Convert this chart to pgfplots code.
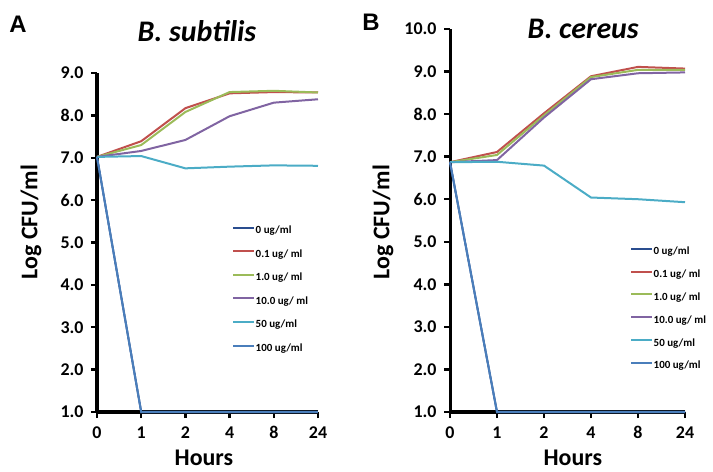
\documentclass[border=0pt]{standalone}
\usepackage{fontspec}
\setmainfont{Carlito}
\newfontfamily\arialfont{Liberation Sans}
\usepackage{pgfplots}
\pgfplotsset{compat=1.18}

\definecolor{c0}{HTML}{2A4D8F}
\definecolor{c01}{HTML}{C0504D}
\definecolor{c1}{HTML}{9BBB59}
\definecolor{c10}{HTML}{8064A2}
\definecolor{c50}{HTML}{4BACC6}
\definecolor{c100}{HTML}{4A7EBB}

\pgfplotsset{
  panel/.style={
    scale only axis,
    axis lines=left,
    axis line style={line width=3bp, black, -},
    xmin=0, xmax=5,
    xtick={0,...,5},
    xticklabels={0,1,2,4,8,24},
    ymin=1,
    tick align=outside,
    major tick length=6bp,
    every tick/.style={black, line width=2.4bp},
    clip=false,
    yticklabel={\pgfmathprintnumber[fixed,fixed zerofill,precision=1]{\tick}},
    yticklabel shift=4bp,
    xticklabel shift=5bp,
    tick label style={font=\bfseries\fontsize{18}{18}\selectfont},
    label style={font=\bfseries\fontsize{24}{24}\selectfont},
    title style={font=\bfseries\itshape\fontsize{30}{30}\selectfont, anchor=center},
    legend cell align=left,
    legend image code/.code={\draw[#1, line width=2bp] (0bp,3bp) -- (21bp,3bp);},
    every axis plot/.append style={line width=2bp, mark=none},
    /pgf/number format/assume math mode=true,
  },
  pleg/.style={
    draw=none, fill=none, inner sep=0pt, anchor=north west,
    font=\bfseries\fontsize{11}{11}\selectfont,
    nodes={text height=8bp, text depth=2bp, inner sep=0.5bp},
  },
}

\begin{document}
\begin{tikzpicture}
\useasboundingbox (0bp,0bp) rectangle (713bp,472bp);

% panel A
\begin{axis}[panel,
  at={(97bp,60bp)}, anchor=south west,
  width=221bp, height=339bp,
  ymax=9, ytick={1,...,9},
  title={B. subtilis},
  title style={at={(axis description cs:0.452,1.106)}},
  xlabel={Hours},
  xlabel style={at={(axis description cs:0.484,-0.136)}, anchor=center},
  ylabel={Log CFU/ml},
  ylabel style={at={(axis description cs:-0.299,0.56)}, anchor=center, rotate=0},
  legend style={pleg, at={(axis description cs:0.611,0.552)}, row sep=12.6bp},
]
\addplot[c0]   coordinates {(0,7.02) (1,1) (2,1) (3,1) (4,1) (5,1)};
\addplot[c01]  coordinates {(0,7.02) (1,7.39) (2,8.17) (3,8.52) (4,8.55) (5,8.54)};
\addplot[c1]   coordinates {(0,7.02) (1,7.30) (2,8.08) (3,8.55) (4,8.58) (5,8.54)};
\addplot[c10]  coordinates {(0,7.02) (1,7.16) (2,7.42) (3,7.98) (4,8.30) (5,8.38)};
\addplot[c50]  coordinates {(0,7.02) (1,7.04) (2,6.75) (3,6.79) (4,6.82) (5,6.81)};
\addplot[c100] coordinates {(0,7.02) (1,1) (2,1) (3,1) (4,1) (5,1)};
\legend{0 ug/ml, 0.1 ug/ ml, 1.0 ug/ ml, 10.0 ug/ ml, 50 ug/ml, 100 ug/ml}
\end{axis}

% panel B
\begin{axis}[panel,
  at={(450bp,60bp)}, anchor=south west,
  width=235bp, height=383bp,
  ymax=10, ytick={1,...,10},
  title={B. cereus},
  title style={at={(axis description cs:0.567,0.984)}},
  xlabel={Hours},
  xlabel style={at={(axis description cs:0.523,-0.120)}, anchor=center},
  ylabel={Log CFU/ml},
  ylabel style={at={(axis description cs:-0.285,0.496)}, anchor=center, rotate=0},
  legend style={pleg, at={(axis description cs:0.766,0.433)}, row sep=11.8bp},
]
\addplot[c0]   coordinates {(0,6.87) (1,1) (2,1) (3,1) (4,1) (5,1)};
\addplot[c01]  coordinates {(0,6.87) (1,7.11) (2,8.02) (3,8.89) (4,9.11) (5,9.07)};
\addplot[c1]   coordinates {(0,6.87) (1,7.04) (2,7.97) (3,8.87) (4,9.04) (5,9.04)};
\addplot[c10]  coordinates {(0,6.87) (1,6.92) (2,7.92) (3,8.82) (4,8.96) (5,8.98)};
\addplot[c50]  coordinates {(0,6.87) (1,6.88) (2,6.79) (3,6.04) (4,6.00) (5,5.93)};
\addplot[c100] coordinates {(0,6.87) (1,1) (2,1) (3,1) (4,1) (5,1)};
\legend{0 ug/ml, 0.1 ug/ ml, 1.0 ug/ ml, 10.0 ug/ ml, 50 ug/ml, 100 ug/ml}
\end{axis}

\node[font=\arialfont\bfseries\fontsize{24}{24}\selectfont] at (18bp,448bp) {A};
\node[font=\arialfont\bfseries\fontsize{24}{24}\selectfont] at (371bp,450bp) {B};
\end{tikzpicture}
\end{document}
